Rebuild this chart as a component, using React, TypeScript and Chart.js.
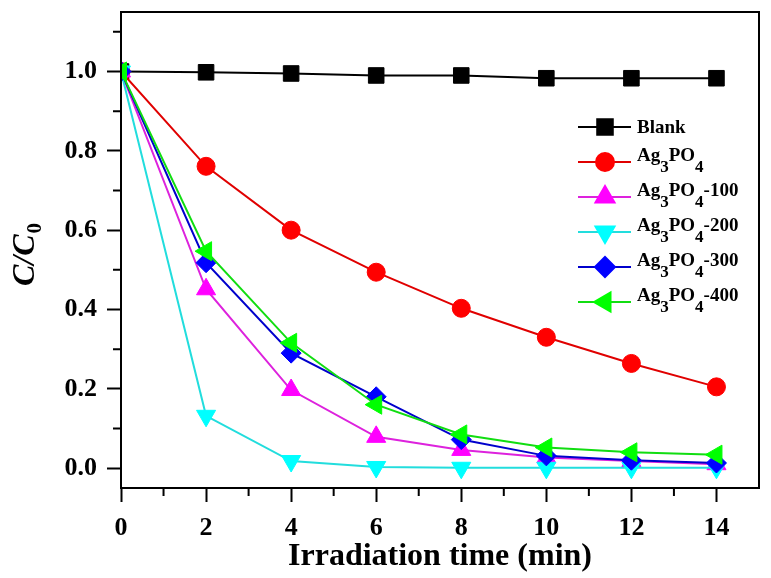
import { useEffect, useRef } from 'react';
import { Chart, registerables } from 'chart.js';
import { drawPoint } from 'chart.js/helpers';

Chart.register(...registerables);

const FONT = '"Liberation Serif", "Times New Roman", serif';

// irradiation time (min)
const times = [0, 2, 4, 6, 8, 10, 12, 14];

const seriesNames = ['Blank', 'Ag3PO4', 'Ag3PO4-100', 'Ag3PO4-200', 'Ag3PO4-300', 'Ag3PO4-400'];

// C/C0 values
const blank = [1.0, 0.998, 0.995, 0.99, 0.99, 0.983, 0.983, 0.983];
const ag3po4 = [1.0, 0.761, 0.6, 0.494, 0.403, 0.33, 0.264, 0.205];
const ag100 = [1.0, 0.451, 0.197, 0.079, 0.046, 0.027, 0.018, 0.01];
const ag200 = [1.0, 0.132, 0.018, 0.003, 0.001, 0.001, 0.001, 0.001];
const ag300 = [1.0, 0.518, 0.29, 0.18, 0.072, 0.031, 0.02, 0.013];
const ag400 = [1.0, 0.547, 0.316, 0.16, 0.085, 0.052, 0.04, 0.034];

const xTicks = [0, 2, 4, 6, 8, 10, 12, 14];
const xMinor = [1, 3, 5, 7, 9, 11, 13];
const yTicks = [0, 0.2, 0.4, 0.6, 0.8, 1.0];
const yMinor = [0.1, 0.3, 0.5, 0.7, 0.9, 1.1];

const allValues = [blank, ag3po4, ag100, ag200, ag300, ag400];
const colors = ['#000000', '#ff0000', '#ff00ff', '#00ffff', '#0000ff', '#00ff00'];
const lineColors = ['#000000', '#e00000', '#dd22dd', '#22dddd', '#0000cc', '#11dd11'];
const markers = ['rect', 'circle', 'triangle', 'triangle', 'rectRot', 'triangle'];
const rotations = [0, 0, 0, 180, 0, 270];
const radii = [11, 9, 11, 11, 10, 11];

// digits that follow a letter are chemical subscripts
function drawFormula(ctx: CanvasRenderingContext2D, text: string, x: number, y: number, size: number) {
  const hasSub = /[A-Za-z][0-9]/.test(text);
  const base = hasSub ? y - 1 : y + 6;
  let cx = x;
  let prev = '';
  for (const ch of text) {
    const sub = /[0-9]/.test(ch) && /[A-Za-z]/.test(prev);
    ctx.font = `bold ${sub ? Math.round(size * 0.9) : size}px ${FONT}`;
    ctx.fillText(ch, cx, sub ? base + 11 : base);
    cx += ctx.measureText(ch).width;
    prev = ch;
  }
}

const decor = {
  id: 'decor',
  afterDraw(chart: Chart) {
    const { ctx, chartArea, scales } = chart;
    const xs = scales.x;
    const ys = scales.y;
    ctx.save();
    ctx.strokeStyle = '#000';
    ctx.lineWidth = 2;
    ctx.strokeRect(chartArea.left, chartArea.top, chartArea.right - chartArea.left, chartArea.bottom - chartArea.top);

    ctx.beginPath();
    xMinor.forEach((v) => {
      const px = xs.getPixelForValue(v);
      ctx.moveTo(px, chartArea.bottom);
      ctx.lineTo(px, chartArea.bottom + 8);
    });
    yMinor.forEach((v) => {
      const py = ys.getPixelForValue(v);
      ctx.moveTo(chartArea.left, py);
      ctx.lineTo(chartArea.left - 8, py);
    });
    ctx.stroke();

    // legend
    chart.data.datasets.forEach((ds: any, i: number) => {
      const y = 127 + i * 35;
      ctx.strokeStyle = ds.borderColor;
      ctx.lineWidth = 2;
      ctx.beginPath();
      ctx.moveTo(578, y);
      ctx.lineTo(631, y);
      ctx.stroke();
      ctx.fillStyle = ds.pointBackgroundColor;
      ctx.strokeStyle = ds.pointBackgroundColor;
      drawPoint(ctx, { pointStyle: ds.pointStyle, rotation: ds.pointRotation, radius: ds.pointRadius, borderWidth: 1 }, 605, y);
      ctx.fillStyle = '#000';
      ctx.textBaseline = 'alphabetic';
      ctx.textAlign = 'left';
      drawFormula(ctx, ds.label, 637, y, 19);
    });

    // y axis title C/C0
    ctx.translate(34, 255);
    ctx.rotate(-Math.PI / 2);
    ctx.fillStyle = '#000';
    ctx.textAlign = 'left';
    ctx.textBaseline = 'alphabetic';
    const big = `italic bold 32px ${FONT}`;
    const small = `bold 21px ${FONT}`;
    ctx.font = big;
    const w1 = ctx.measureText('C/C').width;
    ctx.font = small;
    const w2 = ctx.measureText('0').width;
    const start = -(w1 + w2) / 2;
    ctx.font = big;
    ctx.fillText('C/C', start, 0);
    ctx.font = small;
    ctx.fillText('0', start + w1 + 1, 7);
    ctx.restore();
  },
};

export default function App() {
  const canvasRef = useRef<HTMLCanvasElement>(null);

  useEffect(() => {
    const canvas = canvasRef.current;
    if (!canvas) return;

    const chart = new Chart(canvas, {
      type: 'line',
      data: {
        datasets: seriesNames.map((name, i) => ({
          label: name,
          data: times.map((t, j) => ({ x: t, y: allValues[i][j] })),
          borderColor: lineColors[i],
          borderWidth: 2,
          pointStyle: markers[i] as any,
          pointRotation: rotations[i],
          pointRadius: radii[i],
          pointBackgroundColor: colors[i],
          pointBorderColor: colors[i],
          pointBorderWidth: 1,
          tension: 0,
          order: seriesNames.length - i,
        })),
      },
      options: {
        responsive: false,
        animation: false,
        devicePixelRatio: 1,
        layout: { padding: { left: 0, right: 9, top: 10, bottom: 0 } },
        plugins: {
          legend: { display: false },
          tooltip: { enabled: false },
        },
        scales: {
          x: {
            type: 'linear',
            min: 0,
            max: 15,
            afterBuildTicks: (s: any) => {
              s.ticks = xTicks.map((v) => ({ value: v }));
            },
            afterFit: (s: any) => {
              s.height = 90;
              s.paddingLeft = 0;
              s.paddingRight = 0;
            },
            grid: { drawOnChartArea: false, tickLength: 14, tickWidth: 2, tickColor: '#000', color: '#000' },
            border: { color: '#000', width: 2 },
            ticks: {
              color: '#000',
              padding: 11,
              maxRotation: 0,
              autoSkip: false,
              font: { family: FONT, size: 26, weight: 'bold' },
            },
            title: {
              display: true,
              text: 'Irradiation time (min)',
              color: '#000',
              padding: { top: 0, bottom: 2 },
              font: { family: FONT, size: 32, weight: 'bold' },
            },
          },
          y: {
            type: 'linear',
            min: -0.05,
            max: 1.15,
            afterBuildTicks: (s: any) => {
              s.ticks = yTicks.map((v) => ({ value: v }));
            },
            afterFit: (s: any) => {
              s.width = 121;
              s.paddingTop = 0;
              s.paddingBottom = 0;
            },
            grid: { drawOnChartArea: false, tickLength: 14, tickWidth: 2, tickColor: '#000', color: '#000' },
            border: { color: '#000', width: 2 },
            ticks: {
              color: '#000',
              padding: 10,
              autoSkip: false,
              callback: (v: any) => Number(v).toFixed(1),
              font: { family: FONT, size: 26, weight: 'bold' },
            },
          },
        },
      },
      plugins: [decor],
    });

    return () => chart.destroy();
  }, []);

  return (
    <div style={{ position: 'fixed', left: 0, top: 0, width: 771, height: 578, background: '#fff' }}>
      <canvas ref={canvasRef} width={771} height={578} style={{ display: 'block', width: 771, height: 578 }} />
    </div>
  );
}
